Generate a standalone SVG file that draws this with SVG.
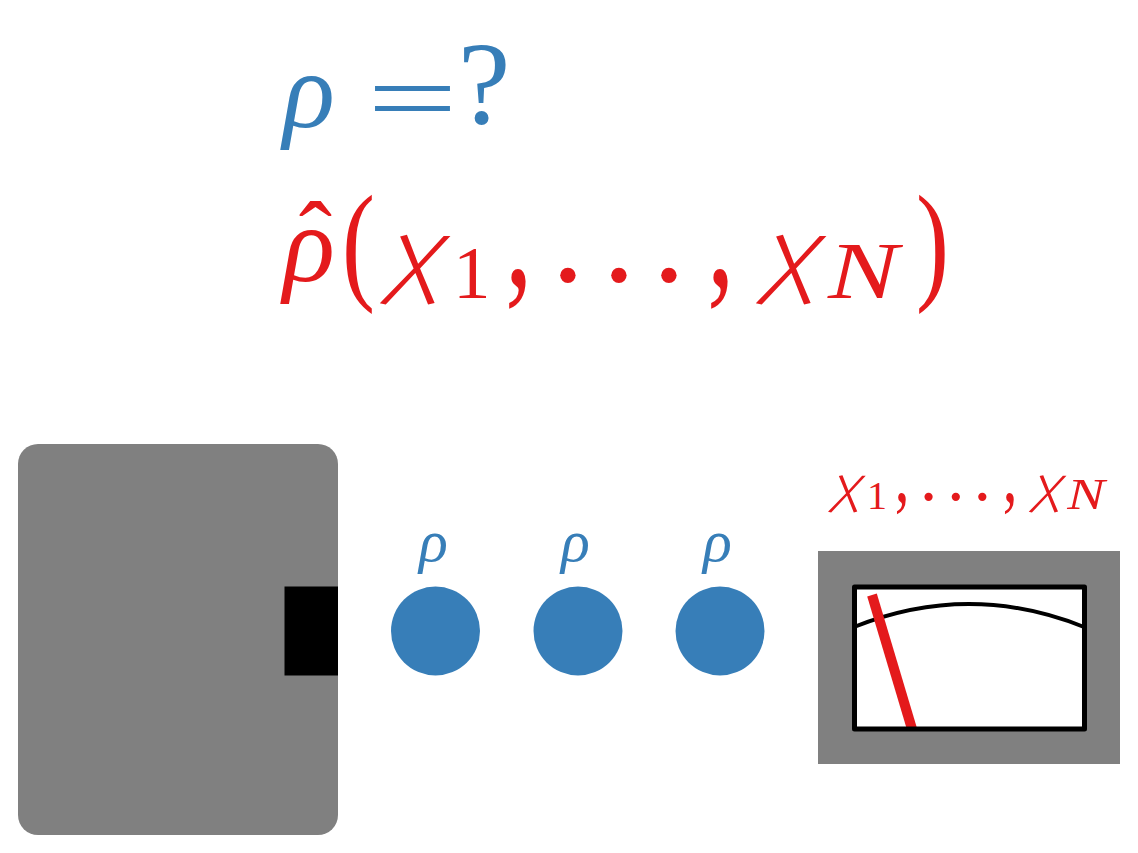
<svg xmlns="http://www.w3.org/2000/svg" width="1138" height="853" viewBox="0 0 1138 853">
<style>
text{font-family:"Liberation Serif","DejaVu Serif",serif}
.i{font-style:italic}
.c{font-family:"Noto Sans CJK SC","Liberation Serif",sans-serif;font-style:italic;font-size:85px;font-weight:300}
.b{fill:#377eb8}
.e{fill:#e41a1c}
.rho{font-size:108px;font-style:italic}
.srho{font-size:60px;font-style:italic}
.par{font-size:132px}
.sub{font-size:75px}
.cm{font-size:110px}
.dot{font-size:130px;text-anchor:middle}
.hat{font-size:100px;text-anchor:middle}
</style>
<rect width="1138" height="853" fill="#fff"/>
<g id="title-rho">
<text class="rho b" x="283" y="127">ρ</text>
<text class="b" font-size="140" transform="translate(367 132) scale(1.15 .73)">=</text>
<text class="b" x="458" y="123" font-size="118">?</text>
</g>
<g id="estimator" class="e">
<text class="rho" x="283" y="281">ρ</text>
<text class="hat" x="315.500" y="271">ˆ</text>
<text class="par" transform="translate(342 286) scale(.75 1)">(</text>
<text class="c" transform="translate(384 285) scale(1.28 1.08)">χ</text>
<text class="sub" x="453" y="298">1</text>
<text class="cm" transform="translate(505 285) scale(1 1.4)">,</text>
<text class="dot" x="568 619 669" y="318">···</text>
<text class="cm" transform="translate(707 285) scale(1 1.4)">,</text>
<text class="c" transform="translate(760 285) scale(1.28 1.08)">χ</text>
<text class="i" font-size="81" transform="translate(828 298) scale(1.3 1)">N</text>
<text class="par" transform="translate(916 286) scale(.75 1)">)</text>
</g>
<g id="source">
<rect x="18" y="444" width="320" height="391" rx="20" fill="#808080"/>
<rect x="284.500" y="586.500" width="53.500" height="89" fill="#000"/>
</g>
<g id="particle-1"><circle cx="435.500" cy="631" r="44.500" class="b"/><text class="srho b" x="419" y="561">ρ</text></g>
<g id="particle-2"><circle cx="578" cy="631" r="44.500" class="b"/><text class="srho b" x="561" y="561">ρ</text></g>
<g id="particle-3"><circle cx="720" cy="631" r="44.500" class="b"/><text class="srho b" x="703" y="561">ρ</text></g>
<g id="outcomes" class="e" transform="translate(625.200 349.900) scale(.534)">
<text class="c" transform="translate(384 285) scale(1.28 1.08)">χ</text>
<text class="sub" x="453" y="298">1</text>
<text class="cm" transform="translate(505 285) scale(1 1.4)">,</text>
<text class="dot" x="568 619 669" y="318">···</text>
<text class="cm" transform="translate(707 285) scale(1 1.4)">,</text>
<text class="c" transform="translate(760 285) scale(1.28 1.08)">χ</text>
<text class="i" font-size="81" transform="translate(828 298) scale(1.3 1)">N</text>
</g>
<g id="meter">
<rect x="818" y="551" width="302" height="213" fill="#808080"/>
<rect x="854.500" y="587" width="230" height="142" fill="#fff"/>
<path d="M854 627Q969 581 1084 627" fill="none" stroke="#000" stroke-width="4"/>
<path d="M872 595L912 729" fill="none" stroke="#e41a1c" stroke-width="10"/>
<rect x="854.500" y="587" width="230" height="142" fill="none" stroke="#000" stroke-width="5" stroke-linejoin="round"/>
</g>
</svg>
